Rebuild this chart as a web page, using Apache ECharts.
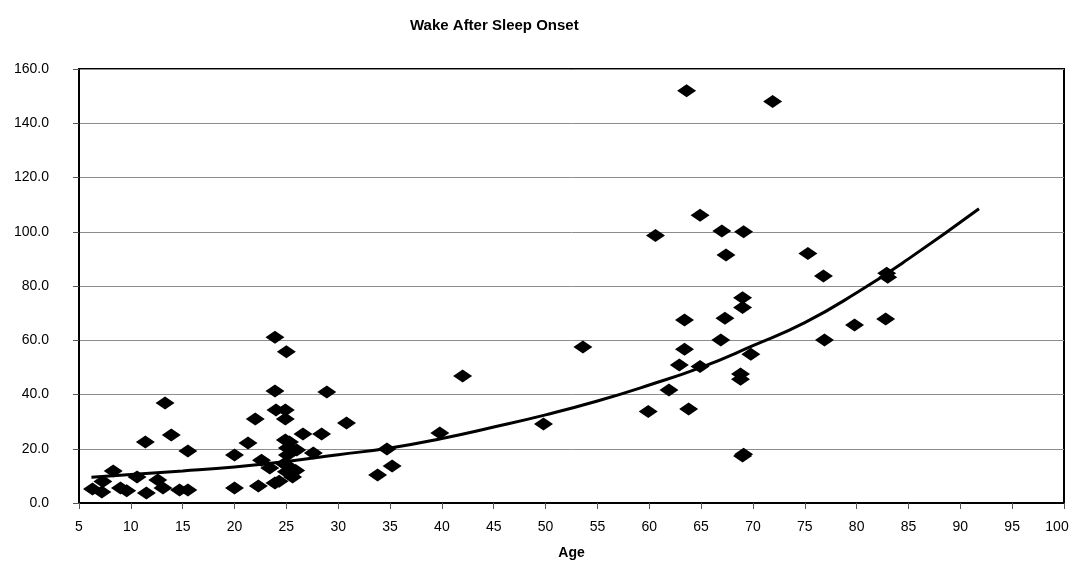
<!DOCTYPE html>
<html>
<head>
<meta charset="utf-8">
<script src="https://cdn.jsdelivr.net/npm/echarts@6/dist/echarts.min.js"></script>
<style>
  html, body { margin: 0; padding: 0; background: #fff; }
  #chart { width: 1071px; height: 562px; }
</style>
</head>
<body>
<div id="chart"></div>
<script>
// measured points (age, minutes)
const ages = [
  6.3, 7.2, 7.3, 8.3, 9.0, 9.6, 10.6, 11.4, 11.5, 12.6, 13.1, 13.3, 13.9, 14.7, 15.5, 15.5,
  20.0, 20.0, 21.3, 22.0, 22.3, 22.6, 23.4, 23.9, 24.0, 23.9, 24.9, 24.9, 24.9, 25.1, 25.1,
  25.6, 26.6, 27.6, 28.4, 28.9, 30.8, 23.9, 25.0, 24.8, 25.3, 25.5, 25.0, 25.2, 24.3, 25.9, 26.0,
  33.8, 34.7, 35.2, 39.8, 42.0, 49.8, 53.6,
  63.6, 71.9, 64.9, 60.6, 67.0, 69.1, 67.4, 75.3, 76.8, 69.0, 69.0, 63.4, 67.3, 66.9, 76.9,
  63.4, 69.8, 62.9, 64.9, 68.8, 68.8, 61.9, 59.9, 63.8, 69.0, 69.1, 79.8, 82.8, 82.9, 83.0
]
const wakeMinutes = [
  5.2, 4.1, 7.9, 11.8, 5.5, 4.5, 9.6, 22.5, 3.7, 8.5, 5.5, 36.9, 25.1, 4.8, 4.8, 19.2,
  5.5, 17.7, 22.1, 31.0, 6.3, 15.8, 12.9, 41.3, 34.3, 7.4, 34.3, 31.0, 23.2, 20.3, 17.7,
  9.6, 25.4, 18.4, 25.4, 40.9, 29.5, 61.1, 55.8, 14.5, 22.5, 20.0, 11.5, 13.5, 8.0, 12.0, 19.5,
  10.3, 19.9, 13.6, 25.8, 46.8, 29.1, 57.5,
  152.0, 148.0, 106.1, 98.6, 100.3, 100.0, 91.4, 92.0, 83.7, 75.7, 72.1, 67.5, 68.1, 60.1, 60.1,
  56.7, 54.8, 50.9, 50.3, 47.6, 45.6, 41.7, 33.7, 34.7, 17.3, 18.0, 65.6, 67.8, 84.7, 83.2
]
// trend line
const trendAges = [6.2, 10, 15, 20, 25, 30, 35, 40, 45, 50, 55, 60, 65, 70, 75, 80, 85, 91.8]
const trendValues = [9.5, 10.5, 11.8, 13.3, 15.3, 17.8, 20.3, 23.8, 28, 32.5, 37.6, 43.5, 50, 58, 66.5, 77.5, 90, 108.5]

const xTicks = { min: 5, max: 100, interval: 5 }
const yTicks = { min: 0, max: 160, interval: 20 }

const chart = echarts.init(document.getElementById('chart'))
const font = 'Liberation Sans, Arial, sans-serif'

chart.setOption({
  animation: false,
  backgroundColor: '#fff',
  title: {
    text: 'Wake After Sleep Onset',
    left: 405,
    top: 13,
    textStyle: { fontFamily: font, fontSize: 15, fontWeight: 'bold', color: '#000' }
  },
  grid: {
    left: 79, right: 7, top: 69, bottom: 59,
    outerBoundsMode: 'none',
    show: true, borderColor: '#000', borderWidth: 2, backgroundColor: '#fff'
  },
  xAxis: {
    type: 'value',
    ...xTicks,
    name: 'Age',
    nameLocation: 'middle',
    nameGap: 43,
    nameTextStyle: { fontFamily: font, fontSize: 14, fontWeight: 'bold', color: '#000' },
    axisLine: { lineStyle: { color: '#000', width: 2 } },
    axisTick: { show: true, length: 6, lineStyle: { color: '#555' } },
    axisLabel: {
      fontFamily: font, fontSize: 14, color: '#000', margin: 17,
      // last label sits a bit left so it stays on the canvas
      formatter: v => (v === 100 ? '{r|100}' : String(v)),
      rich: { r: { fontFamily: font, fontSize: 14, color: '#000', padding: [0, 14, 0, 0] } }
    },
    splitLine: { show: false }
  },
  yAxis: {
    type: 'value',
    ...yTicks,
    axisLine: { show: true, lineStyle: { color: '#000', width: 2 } },
    axisTick: { show: true, length: 6, lineStyle: { color: '#555' } },
    axisLabel: {
      fontFamily: font, fontSize: 14, color: '#000', margin: 30,
      formatter: v => v.toFixed(1)
    },
    splitLine: { show: true, lineStyle: { color: '#8c8c8c', width: 1 } }
  },
  series: [
    {
      type: 'scatter',
      data: ages.map((a, i) => [a, wakeMinutes[i]]),
      symbol: 'diamond',
      symbolSize: [19, 13],
      itemStyle: { color: '#000', opacity: 1 },
      z: 3
    },
    {
      type: 'line',
      data: trendAges.map((a, i) => [a, trendValues[i]]),
      smooth: true,
      showSymbol: false,
      lineStyle: { color: '#000', width: 3 },
      z: 4
    }
  ]
})
</script>
</body>
</html>
